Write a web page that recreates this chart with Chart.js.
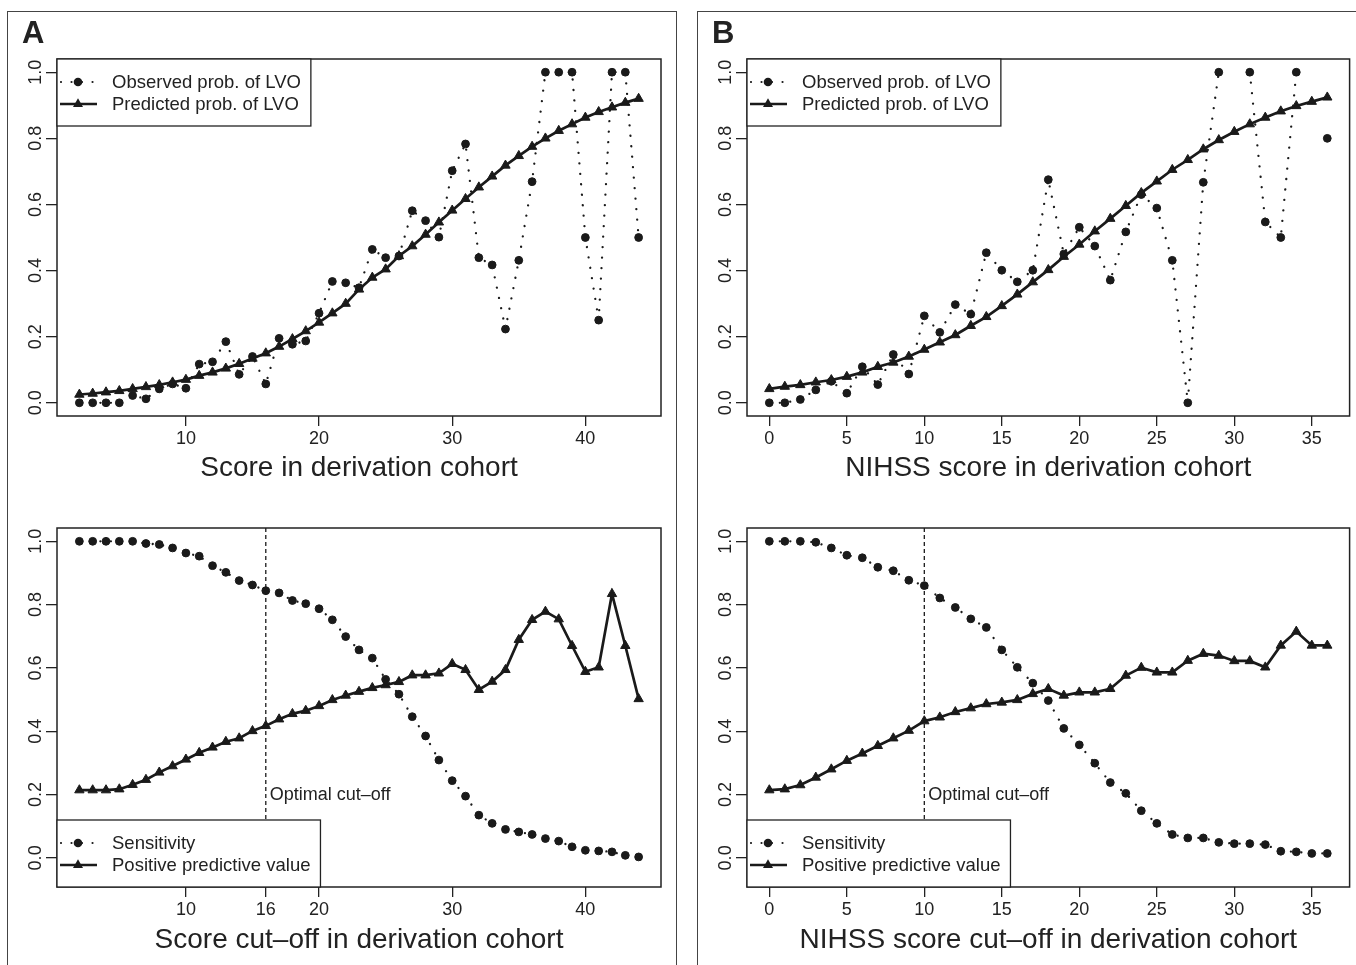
<!DOCTYPE html>
<html>
<head>
<meta charset="utf-8">
<script src="https://cdn.jsdelivr.net/npm/chart.js@4"></script>
<style>
  body { margin: 0; background: #fff; width: 1356px; height: 965px; overflow: hidden; position: relative; }
  canvas { position: absolute; }
  .frame { position: absolute; box-sizing: border-box; border: 1.5px solid #444; border-bottom: none; }
</style>
</head>
<body>
<div class="frame" style="left:7px;top:11px;width:670px;height:970px"></div>
<div class="frame" style="left:697px;top:11px;width:700px;height:970px;border-right:none"></div>
<canvas id="cA1" width="678" height="482" style="left:0;top:0"></canvas>
<canvas id="cA2" width="678" height="483" style="left:0;top:482px"></canvas>
<canvas id="cB1" width="666" height="482" style="left:690px;top:0"></canvas>
<canvas id="cB2" width="666" height="483" style="left:690px;top:482px"></canvas>
<script>
// ******************************************************** DATA

// panel A : score 2..44
var scoreA = [2,3,4,5,6,7,8,9,10,11,12,13,14,15,16,17,18,19,20,21,22,23,24,25,26,27,28,29,30,31,32,33,34,35,36,37,38,39,40,41,42,43,44];
var obsA  = [0,0,0,0,0.022,0.012,0.042,0.057,0.044,0.117,0.124,0.185,0.086,0.14,0.057,0.195,0.177,0.187,0.271,0.367,0.363,
             0.348,0.464,0.439,0.444,0.581,0.551,0.501,0.702,0.783,0.439,0.417,0.223,0.431,0.669,1,1,1,0.5,0.25,1,1,0.5];
var predA = [0.025,0.028,0.032,0.036,0.042,0.048,0.054,0.062,0.07,0.082,0.092,0.104,0.118,0.134,0.15,0.17,0.193,0.217,0.243,0.271,0.3,
             0.343,0.379,0.404,0.444,0.474,0.509,0.546,0.582,0.617,0.652,0.685,0.718,0.747,0.775,0.8,0.823,0.843,0.863,0.88,0.894,0.908,0.92];
var sensA = [1,1,1,1,1,0.993,0.99,0.979,0.963,0.953,0.923,0.902,0.876,0.862,0.844,0.837,0.813,0.803,0.787,0.752,0.699,
             0.657,0.631,0.564,0.517,0.446,0.385,0.309,0.244,0.195,0.135,0.109,0.09,0.082,0.074,0.061,0.053,0.035,0.024,0.022,0.019,0.008,0.003];
var ppvA  = [0.214,0.214,0.214,0.217,0.231,0.247,0.27,0.29,0.311,0.332,0.349,0.367,0.378,0.401,0.417,0.438,0.455,0.465,0.48,0.499,0.513,
             0.525,0.537,0.546,0.556,0.577,0.577,0.583,0.613,0.594,0.531,0.557,0.594,0.689,0.752,0.778,0.754,0.67,0.588,0.602,0.834,0.67,0.502];

// panel B : NIHSS 0..36 (null = no patients at that score)
var scoreB = [0,1,2,3,4,5,6,7,8,9,10,11,12,13,14,15,16,17,18,19,20,21,22,23,24,25,26,27,28,29,30,31,32,33,34,35,36];
var obsB  = [0,0,0.01,0.039,0.065,0.029,0.109,0.055,0.146,0.087,0.263,0.213,0.297,0.268,0.454,0.401,0.366,0.401,
             0.675,0.45,0.531,0.474,0.371,0.517,0.63,0.589,0.431,0,0.667,1,null,1,0.547,0.5,1,null,0.8];
var predB = [0.042,0.049,0.054,0.062,0.069,0.079,0.092,0.109,0.122,0.14,0.161,0.183,0.205,0.233,0.26,0.293,0.328,0.365,
             0.402,0.442,0.479,0.519,0.557,0.596,0.635,0.67,0.705,0.735,0.767,0.795,0.82,0.843,0.863,0.882,0.898,0.911,0.924];
var sensB = [1,1,1,0.997,0.979,0.956,0.948,0.918,0.907,0.877,0.86,0.821,0.791,0.755,0.728,0.657,0.602,0.552,
             0.497,0.409,0.357,0.299,0.238,0.204,0.149,0.109,0.074,0.063,0.063,0.049,0.045,0.045,0.042,0.021,0.019,0.014,0.014];
var ppvB  = [0.214,0.217,0.23,0.254,0.28,0.307,0.33,0.354,0.378,0.402,0.432,0.444,0.461,0.473,0.486,0.491,0.499,0.518,
             0.534,0.513,0.523,0.523,0.534,0.576,0.601,0.586,0.586,0.623,0.645,0.639,0.622,0.622,0.602,0.671,0.715,0.671,0.671];

var xTicksA1 = [10,20,30,40];
var xTicksA2 = [10,16,20,30,40];
var xTicksB  = [0,5,10,15,20,25,30,35];
var yTicks   = [0,0.2,0.4,0.6,0.8,1];

var cutA = 16, cutB = 10;

// ******************************************************** DRAWING

var FONT = '"Liberation Sans", Arial, Helvetica, sans-serif';
var INK = '#1a1a1a';

// per-canvas decorations (drawn by the plugin below)
var deco = {
  cA1: { letter: 'A', title: 'Score in derivation cohort', legend: 'top',
         labels: ['Observed prob. of LVO', 'Predicted prob. of LVO'] },
  cA2: { title: 'Score cut\u2013off in derivation cohort', legend: 'bottom', cut: cutA,
         labels: ['Sensitivity', 'Positive predictive value'] },
  cB1: { letter: 'B', title: 'NIHSS score in derivation cohort', legend: 'top',
         labels: ['Observed prob. of LVO', 'Predicted prob. of LVO'] },
  cB2: { title: 'NIHSS score cut\u2013off in derivation cohort', legend: 'bottom', cut: cutB,
         labels: ['Sensitivity', 'Positive predictive value'] }
};

function dot(ctx, x, y) {
  ctx.beginPath(); ctx.arc(x, y, 4.3, 0, Math.PI * 2); ctx.fill();
}
function tri(ctx, x, y) {
  var r = 5.8, c = Math.cos(Math.PI / 6) * r;
  ctx.beginPath();
  ctx.moveTo(x, y - r); ctx.lineTo(x + c, y + r / 2); ctx.lineTo(x - c, y + r / 2);
  ctx.closePath(); ctx.fill();
}

var decoPlugin = {
  id: 'deco',
  beforeDatasetsDraw: function(chart) {
    var d = deco[chart.canvas.id], a = chart.chartArea, ctx = chart.ctx;
    if (d.cut == null) return;
    var px = chart.scales.x.getPixelForValue(d.cut);
    ctx.save();
    ctx.strokeStyle = INK; ctx.lineWidth = 1.3; ctx.setLineDash([4, 3]);
    ctx.beginPath(); ctx.moveTo(px, a.top); ctx.lineTo(px, a.bottom); ctx.stroke();
    ctx.setLineDash([]);
    ctx.fillStyle = '#222'; ctx.font = '18px ' + FONT;
    ctx.textAlign = 'left'; ctx.textBaseline = 'middle';
    ctx.fillText('Optimal cut\u2013off', px + 4, chart.scales.y.getPixelForValue(0.2));
    ctx.restore();
  },
  afterDraw: function(chart) {
    var d = deco[chart.canvas.id], a = chart.chartArea, ctx = chart.ctx, ys = chart.scales.y;
    ctx.save();
    // plot box
    ctx.strokeStyle = '#222'; ctx.lineWidth = 1.5;
    ctx.strokeRect(a.left, a.top, a.right - a.left, a.bottom - a.top);
    // rotated y tick labels
    ctx.fillStyle = '#222'; ctx.font = '18px ' + FONT;
    ctx.textAlign = 'center'; ctx.textBaseline = 'middle';
    ys.ticks.forEach(function(t) {
      ctx.save();
      ctx.translate(a.left - 21, ys.getPixelForValue(t.value));
      ctx.rotate(-Math.PI / 2);
      ctx.fillText(t.value.toFixed(1), 0, 0);
      ctx.restore();
    });
    // axis title
    ctx.font = '28px ' + FONT;
    ctx.fillText(d.title, (a.left + a.right) / 2, d.legend === 'top' ? 468 : 458);
    // panel letter
    if (d.letter) {
      ctx.font = 'bold 31px ' + FONT; ctx.textAlign = 'left'; ctx.textBaseline = 'alphabetic';
      ctx.fillText(d.letter, 22, 43);
    }
    // legend
    ctx.font = '18.5px ' + FONT;
    var tw = Math.max(ctx.measureText(d.labels[0]).width, ctx.measureText(d.labels[1]).width);
    var w = 55 + tw + 10, h = 67;
    var top = d.legend === 'top' ? a.top : a.bottom - h;
    ctx.fillStyle = '#fff'; ctx.fillRect(a.left, top, w, h);
    ctx.strokeStyle = '#222'; ctx.lineWidth = 1.3; ctx.strokeRect(a.left, top, w, h);
    var r1 = top + 23, r2 = top + 45, sx = a.left + 21;
    ctx.fillStyle = INK; ctx.strokeStyle = INK;
    // dotted entry
    ctx.lineWidth = 2.2; ctx.lineCap = 'round'; ctx.setLineDash([0.01, 10.5]);
    ctx.beginPath(); ctx.moveTo(a.left + 4, r1); ctx.lineTo(a.left + 40, r1); ctx.stroke();
    ctx.setLineDash([]); ctx.lineCap = 'butt';
    dot(ctx, sx, r1);
    // solid entry
    ctx.lineWidth = 2.7;
    ctx.beginPath(); ctx.moveTo(a.left + 3, r2); ctx.lineTo(a.left + 40, r2); ctx.stroke();
    tri(ctx, sx, r2);
    ctx.fillStyle = '#222'; ctx.textAlign = 'left'; ctx.textBaseline = 'middle';
    ctx.fillText(d.labels[0], a.left + 55, r1 + 1);
    ctx.fillText(d.labels[1], a.left + 55, r2 + 1);
    ctx.restore();
  }
};

function pts(xs, ys) {
  return xs.map(function(x, i) { return { x: x, y: ys[i] }; });
}

function makePanel(id, xs, dotted, solid, xTicks, xMin, xMax, yMin, yMax, pad) {
  return new Chart(document.getElementById(id), {
    type: 'line',
    data: {
      datasets: [{
        data: pts(xs, dotted),
        borderColor: INK, borderWidth: 2.3, borderDash: [0.01, 10.5], borderCapStyle: 'round',
        pointStyle: 'circle', pointRadius: 3.9, pointBorderWidth: 1,
        pointBackgroundColor: INK, pointBorderColor: INK,
        spanGaps: false, tension: 0
      }, {
        data: pts(xs, solid),
        borderColor: INK, borderWidth: 2.7,
        pointStyle: 'triangle', pointRadius: 5.4, pointBorderWidth: 1,
        pointBackgroundColor: INK, pointBorderColor: INK,
        tension: 0
      }]
    },
    options: {
      responsive: false, animation: false, devicePixelRatio: 1,
      layout: { padding: pad },
      plugins: { legend: { display: false }, tooltip: { enabled: false } },
      scales: {
        x: {
          type: 'linear', min: xMin, max: xMax,
          afterBuildTicks: function(s) { s.ticks = xTicks.map(function(v) { return { value: v }; }); },
          afterFit: function(s) { s.height = 40; },
          ticks: { font: { size: 18, family: FONT }, color: '#222', padding: 2, maxRotation: 0, autoSkip: false,
                   callback: function(v) { return String(v); } },
          grid: { drawOnChartArea: false, tickLength: 10, color: '#222', lineWidth: 1.3 },
          border: { display: false }
        },
        y: {
          type: 'linear', min: yMin, max: yMax,
          afterBuildTicks: function(s) { s.ticks = yTicks.map(function(v) { return { value: v }; }); },
          afterFit: function(s) { s.width = 40; },
          ticks: { display: false },
          grid: { drawOnChartArea: false, tickLength: 11, color: '#222', lineWidth: 1.3 },
          border: { display: false }
        }
      }
    },
    plugins: [decoPlugin]
  });
}

// R style axis ranges (4% extension)
makePanel('cA1', scoreA, obsA, predA, xTicksA1, 0.32, 45.68, -0.04, 1.04, { left: 17, right: 17, top: 59, bottom: 26 });
makePanel('cA2', scoreA, sensA, ppvA, xTicksA2, 0.32, 45.68, -0.092, 1.042, { left: 17, right: 17, top: 46, bottom: 38 });
makePanel('cB1', scoreB, obsB, predB, xTicksB, -1.44, 37.44, -0.04, 1.04, { left: 17, right: 5, top: 59, bottom: 26 });
makePanel('cB2', scoreB, sensB, ppvB, xTicksB, -1.44, 37.44, -0.092, 1.042, { left: 17, right: 5, top: 46, bottom: 38 });
</script>
</body>
</html>
